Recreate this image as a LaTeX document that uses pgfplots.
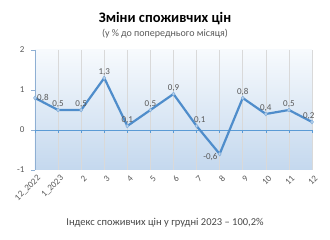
\documentclass[border=0pt]{standalone}
\usepackage{fontspec}
\setmainfont{Carlito}
\usepackage{pgfplots}
\pgfplotsset{compat=1.18}
\definecolor{lineblue}{HTML}{4F8DCB}
\definecolor{zeroblue}{HTML}{5B9BD5}
\definecolor{axisblue}{HTML}{8EAFD3}
\definecolor{gridgray}{HTML}{D9D9D9}
\definecolor{txtgray}{HTML}{595959}
\definecolor{bgtop}{HTML}{F7FAFD}
\definecolor{bgbot}{HTML}{C4D8EE}
\pgfplotsset{lbl/.style={draw=none, mark=none, point meta=explicit symbolic, nodes near coords,
  every node near coord/.append style={anchor=#1, font=\fontsize{9}{10}\selectfont, text=txtgray, inner sep=2pt}}}
\begin{document}
\begin{tikzpicture}[x=1pt,y=1pt]
\path (0,0) rectangle (330,240);
\node[font=\fontsize{14.5}{16}\selectfont\bfseries, text=black] at (165,221) {Зміни споживчих цін};
\node[font=\fontsize{10}{12}\selectfont, text=txtgray] at (165,206) {(у \% до попереднього місяця)};
\node[font=\fontsize{10.5}{12}\selectfont, text=txtgray!80!black] at (165,17) {Індекс споживчих цін у грудні 2023 – 100,2\%};
\begin{axis}[
  at={(35pt,70pt)}, anchor=south west,
  width=277pt, height=120pt, scale only axis,
  xmin=0, xmax=12, ymin=-1, ymax=2,
  axis lines*=left,
  x axis line style={draw=none},
  y axis line style={draw=axisblue, line width=0.8pt},
  axis background/.style={top color=bgtop, bottom color=bgbot},
  xtick={0,...,12},
  xticklabels={12\_2022,1\_2023,2,3,4,5,6,7,8,9,10,11,12},
  xmajorgrids, grid style={gridgray, line width=0.6pt},
  ytick={-1,0,1,2},
  ytick style={draw=axisblue, line width=0.6pt},
  xtick style={draw=none},
  tick align=outside, major tick length=4pt,
  /pgf/number format/assume math mode=true,
  ticklabel style={font=\fontsize{9}{10}\selectfont, text=txtgray},
  xticklabel style={rotate=45, anchor=east, yshift=-5pt, xshift=2pt, inner sep=1pt},
  yticklabel style={xshift=-3pt},
  clip=false,
]
\draw[zeroblue, line width=0.9pt] (axis cs:0,0) -- (axis cs:12,0);
\pgfplotsinvokeforeach{0,...,12}{\draw[zeroblue, line width=0.6pt] (axis cs:#1,0) -- (axis cs:#1,-0.08);}
\addplot[lineblue, line width=2.2pt, mark=diamond*, mark size=2pt,
  mark options={fill=lineblue!40, draw=lineblue!70, line width=0.5pt}]
  coordinates {(0,0.8) (1,0.5) (2,0.5) (3,1.3) (4,0.1) (5,0.5) (6,0.9) (7,0.1) (8,-0.6) (9,0.8) (10,0.4) (11,0.5) (12,0.2)};
\addplot[lbl=south] coordinates {(1,0.5) [0,5] (2,0.5) [0,5] (3,1.3) [1,3] (4,0.1) [0,1] (5,0.5) [0,5] (6,0.9) [0,9] (9,0.8) [0,8] (10,0.4) [0,4] (11,0.5) [0,5]};
\addplot[lbl=west] coordinates {(0,0.8) [0,8]};
\addplot[lbl=-120] coordinates {(7,0.1) [0,1]};
\addplot[lbl=20] coordinates {(8,-0.6) [-0,6]};
\addplot[lbl=-60] coordinates {(12,0.2) [0,2]};
\end{axis}
\end{tikzpicture}
\end{document}
